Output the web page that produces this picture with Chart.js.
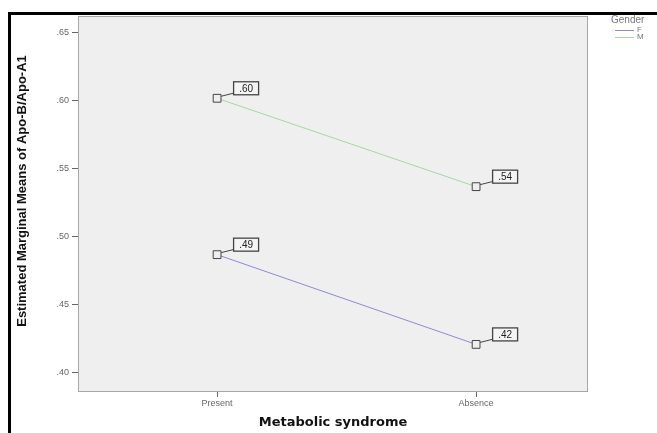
<!DOCTYPE html>
<html>
<head>
<meta charset="utf-8">
<script src="https://cdn.jsdelivr.net/npm/chart.js@4"></script>
<style>
html,body{margin:0;padding:0;background:#fff;}
#wrap{width:657px;height:433px;position:relative;}
</style>
</head>
<body>
<div id="wrap"><canvas id="means-chart" width="657" height="433"></canvas></div>
<script>
var categories=['Present','Absence'];
var catPos=[0,1];
var genders=['F','M'];
var meansF=[0.487,0.421];
var meansM=[0.602,0.537];
var labelsF=['.49','.42'];
var labelsM=['.60','.54'];
var yTicks=[0.40,0.45,0.50,0.55,0.60,0.65];
var colorF='#8c8cd2';
var colorM='#a3d9a3';

var chart;

window.onload=function()
{
    chart=create_chart(document.getElementById("means-chart").getContext('2d'));
}

function to_points(values)
{
    let pts=[];
    for(let i=0;i<values.length;i++)
    {
        pts.push({x:catPos[i],y:values[i]});
    }
    return pts;
}

// grey plot area, black outer frame
var framePlugin={
    id:'frame',
    beforeDraw:function(c)
    {
        let ctx=c.ctx,a=c.chartArea;
        ctx.save();
        ctx.fillStyle='#efefef';
        ctx.fillRect(a.left,a.top,a.right-a.left,a.bottom-a.top);
        ctx.strokeStyle='#a6a6a6';
        ctx.lineWidth=1;
        ctx.strokeRect(a.left+0.5,a.top+0.5,a.right-a.left-1,a.bottom-a.top-1);
        ctx.strokeStyle='#000';
        ctx.lineWidth=3;
        ctx.beginPath();
        ctx.moveTo(9.5,433);
        ctx.lineTo(9.5,13.5);
        ctx.lineTo(657,13.5);
        ctx.stroke();
        ctx.restore();
    }
};

// y axis title, sits a bit above the middle like the original
var yTitlePlugin={
    id:'yTitle',
    afterDraw:function(c)
    {
        let ctx=c.ctx;
        ctx.save();
        ctx.translate(22,191);
        ctx.rotate(-Math.PI/2);
        ctx.font='bold 13px "Liberation Sans Narrow", "Liberation Sans", Arial, sans-serif';
        ctx.fillStyle='#111';
        ctx.textAlign='center';
        ctx.textBaseline='middle';
        ctx.fillText('Estimated Marginal Means of Apo-B/Apo-A1',0,0);
        ctx.restore();
    }
};

// boxed value labels with a leader line
var boxLabelPlugin={
    id:'boxLabels',
    afterDatasetsDraw:function(c)
    {
        let ctx=c.ctx;
        let texts=[labelsF,labelsM];
        ctx.save();
        ctx.font='10px "Liberation Sans", Arial, sans-serif';
        ctx.textAlign='center';
        ctx.textBaseline='middle';
        c.data.datasets.forEach(function(ds,di)
        {
            let meta=c.getDatasetMeta(di);
            meta.data.forEach(function(pt,i)
            {
                let bx=pt.x+16,by=pt.y-17,bw=26,bh=14;
                ctx.strokeStyle='#444';
                ctx.lineWidth=1;
                ctx.beginPath();
                ctx.moveTo(pt.x+4,pt.y-2);
                ctx.lineTo(bx,pt.y-5);
                ctx.stroke();
                ctx.fillStyle='#f4f4f4';
                ctx.fillRect(bx,by,bw,bh);
                ctx.lineWidth=1.3;
                ctx.strokeRect(bx+0.5,by+0.5,bw-1,bh-1);
                ctx.fillStyle='#222';
                ctx.fillText(texts[di][i],bx+bw/2,by+bh/2+1);
            });
        });
        ctx.restore();
    }
};

// legend to the right of the plot
var legendPlugin={
    id:'genderLegend',
    afterDraw:function(c)
    {
        let ctx=c.ctx;
        let cols=[colorF,colorM];
        ctx.save();
        ctx.font='10px "Liberation Sans", Arial, sans-serif';
        ctx.fillStyle='#777';
        ctx.textBaseline='middle';
        ctx.textAlign='left';
        ctx.fillText('Gender',611,20);
        for(let i=0;i<genders.length;i++)
        {
            let y=30+i*7;
            ctx.strokeStyle=cols[i];
            ctx.lineWidth=1;
            ctx.beginPath();
            ctx.moveTo(615,y+0.5);
            ctx.lineTo(634,y+0.5);
            ctx.stroke();
            ctx.font='8px "Liberation Sans", Arial, sans-serif';
            ctx.fillStyle='#777';
            ctx.fillText(genders[i],637,y);
        }
        ctx.restore();
    }
};

function create_chart(ctx)
{
    let sets=[
        {label:genders[0],data:to_points(meansF),borderColor:colorF},
        {label:genders[1],data:to_points(meansM),borderColor:colorM}
    ];
    sets.forEach(function(s)
    {
        s.borderWidth=1;
        s.pointStyle='rect';
        s.pointRadius=5.5;
        s.pointBorderColor='#444';
        s.pointBackgroundColor='#efefef';
        s.pointBorderWidth=1;
        s.tension=0;
        s.fill=false;
    });
    return new Chart(ctx,{
        type:'line',
        data:{datasets:sets},
        options:{
            responsive:false,
            animation:false,
            events:[],
            layout:{padding:{left:0,right:69,top:16,bottom:0}},
            plugins:{legend:{display:false},tooltip:{enabled:false}},
            scales:{
                x:{
                    type:'linear',
                    min:-0.537,
                    max:1.432,
                    afterBuildTicks:function(s){s.ticks=catPos.map(function(v){return {value:v};});},
                    afterFit:function(s){s.height=41;},
                    grid:{drawOnChartArea:false,drawTicks:true,tickLength:5,color:'#666'},
                    border:{display:false},
                    ticks:{
                        padding:1,
                        color:'#666',
                        font:{family:'"Liberation Sans", Arial, sans-serif',size:9},
                        callback:function(v){let i=catPos.indexOf(v);return i<0?'':categories[i];}
                    },
                    title:{
                        display:true,
                        text:'Metabolic syndrome',
                        color:'#111',
                        font:{family:'"DejaVu Sans", Verdana, sans-serif',size:13,weight:'bold'},
                        padding:{top:1,bottom:3}
                    }
                },
                y:{
                    min:0.386,
                    max:0.6625,
                    afterBuildTicks:function(s){s.ticks=yTicks.map(function(v){return {value:v};});},
                    afterFit:function(s){s.width=78;},
                    grid:{drawOnChartArea:false,drawTicks:true,tickLength:6,color:'#666'},
                    border:{display:false},
                    ticks:{
                        padding:3,
                        color:'#666',
                        font:{family:'"Liberation Sans", Arial, sans-serif',size:9},
                        callback:function(v){return v.toFixed(2).replace(/^0/,'');}
                    }
                }
            }
        },
        plugins:[framePlugin,yTitlePlugin,boxLabelPlugin,legendPlugin]
    });
}
</script>
</body>
</html>
